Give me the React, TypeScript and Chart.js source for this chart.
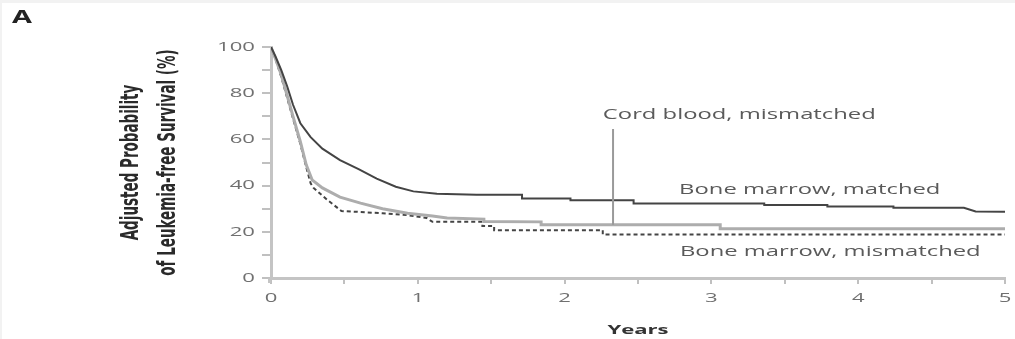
import React, { useEffect, useRef } from "react";
import { Chart, registerables } from "chart.js";

Chart.register(...registerables);

// Years and adjusted probability (%)
const bmMatchedX = [0, 0.03, 0.07, 0.11, 0.15, 0.2, 0.27, 0.35, 0.47, 0.6, 0.72, 0.85, 0.97, 1.13, 1.4, 1.71, 1.71, 2.04, 2.04, 2.47, 2.47, 3.36, 3.36, 3.79, 3.79, 4.24, 4.24, 4.72, 4.8, 5.0];
const bmMatchedY = [100, 96, 90, 83, 75, 67, 61, 56, 51, 47, 43, 39.5, 37.5, 36.5, 36, 36, 34.4, 34.4, 33.7, 33.7, 32.3, 32.3, 31.6, 31.6, 30.9, 30.9, 30.4, 30.4, 28.8, 28.7];

const cordX = [0, 0.03, 0.07, 0.11, 0.15, 0.2, 0.24, 0.28, 0.35, 0.47, 0.61, 0.76, 0.93, 1.1, 1.2, 1.45, 1.45, 1.84, 1.84, 3.06, 3.06, 5.0];
const cordY = [100, 95, 88, 79, 70, 59, 49, 42.5, 39, 35, 32.4, 30, 28, 26.8, 26, 25.5, 24.5, 24.3, 23, 23, 21.3, 21.3];

const bmMismatchedX = [0, 0.03, 0.07, 0.11, 0.15, 0.2, 0.24, 0.27, 0.29, 0.38, 0.48, 0.6, 0.76, 0.93, 1.06, 1.1, 1.44, 1.44, 1.52, 1.52, 2.26, 2.26, 5.0];
const bmMismatchedY = [100, 95, 87, 78, 69, 58, 48, 41, 39, 34, 29, 28.6, 28, 27.2, 26, 24.3, 24.3, 22.5, 22.5, 20.7, 20.7, 18.8, 18.8];

const xTickLabels = ["0", "1", "2", "3", "4", "5"];
const yTickLabels = ["0", "20", "40", "60", "80", "100"];

const seriesNames = ["Bone marrow, matched", "Cord blood, mismatched", "Bone marrow, mismatched"];
// label anchors in data coordinates [year, percent]
const labelAnchors = [[3.67, 38], [3.19, 70.5], [3.81, 11.2]];
const leaderX = 2.33;
const leaderY = [64.5, 23];

const panelLetter = "A";
const xTitle = "Years";
const yTitleLines = ["Adjusted Probability", "of Leukemia-free Survival (%)"];

const SX = 1.7;

function toPts(xs: number[], ys: number[]) {
  return xs.map((x, i) => ({ x, y: ys[i] }));
}

function drawText(ctx: CanvasRenderingContext2D, text: string, x: number, y: number, font: string, color: string, align: CanvasTextAlign) {
  ctx.save();
  ctx.translate(x, y);
  ctx.scale(SX, 1);
  ctx.font = font;
  ctx.fillStyle = color;
  ctx.textAlign = align;
  ctx.textBaseline = "middle";
  ctx.fillText(text, 0, 0);
  ctx.restore();
}

export default function App() {
  const ref = useRef<HTMLCanvasElement | null>(null);

  useEffect(() => {
    document.body.style.margin = "0";
    const canvas = ref.current!;
    const textPlugin = {
      id: "texts",
      beforeDraw(chart: any) {
        const ctx = chart.ctx as CanvasRenderingContext2D;
        ctx.save();
        ctx.fillStyle = "#ffffff";
        ctx.fillRect(0, 0, chart.width, chart.height);
        ctx.fillStyle = "#f2f2f2";
        ctx.fillRect(0, 0, chart.width, 3);
        ctx.fillRect(0, 0, 2, chart.height);
        ctx.restore();
      },
      afterDraw(chart: any) {
        const ctx = chart.ctx as CanvasRenderingContext2D;
        const xs = chart.scales.x;
        const ys = chart.scales.y;
        const ca = chart.chartArea;
        const tickFont = "13px 'Open Sans'";
        xTickLabels.forEach((t) => {
          drawText(ctx, t, xs.getPixelForValue(Number(t)), ca.bottom + 20, tickFont, "#707070", "center");
        });
        yTickLabels.forEach((t) => {
          drawText(ctx, t, ca.left - 16, ys.getPixelForValue(Number(t)), tickFont, "#707070", "right");
        });
        // y axis line slightly overshooting below the x axis
        ctx.save();
        ctx.strokeStyle = "#c4c4c4";
        ctx.lineWidth = 3;
        ctx.beginPath();
        ctx.moveTo(ca.left - 1.5, ca.bottom);
        ctx.lineTo(ca.left - 1.5, ca.bottom + 5);
        ctx.stroke();
        // leader line
        ctx.strokeStyle = "#9a9a9a";
        ctx.lineWidth = 2;
        ctx.beginPath();
        ctx.moveTo(xs.getPixelForValue(leaderX), ys.getPixelForValue(leaderY[0]));
        ctx.lineTo(xs.getPixelForValue(leaderX), ys.getPixelForValue(leaderY[1]));
        ctx.stroke();
        ctx.restore();
        const lblFont = "14px 'Open Sans'";
        seriesNames.forEach((n, i) => {
          drawText(ctx, n, xs.getPixelForValue(labelAnchors[i][0]), ys.getPixelForValue(labelAnchors[i][1]), lblFont, "#5a5a5a", "center");
        });
        drawText(ctx, xTitle, (ca.left + ca.right) / 2, 330, "bold 13px 'Open Sans'", "#333", "center");
        drawText(ctx, panelLetter, 12, 18, "bold 17px 'Open Sans'", "#222", "left");
        // rotated y title
        const cy = (ca.top + ca.bottom) / 2;
        const xsPos = [131, 168];
        yTitleLines.forEach((line, i) => {
          ctx.save();
          ctx.translate(xsPos[i], cy);
          ctx.scale(SX, 1);
          ctx.rotate(-Math.PI / 2);
          ctx.font = "bold 15px 'DejaVu Sans Condensed'";
          ctx.fillStyle = "#2a2a2a";
          ctx.textAlign = "center";
          ctx.textBaseline = "middle";
          ctx.fillText(line, 0, 0);
          ctx.restore();
        });
      },
    };

    const chart = new Chart(canvas, {
      type: "line",
      data: {
        datasets: [
          { label: seriesNames[0], data: toPts(bmMatchedX, bmMatchedY), borderColor: "#444444", borderWidth: 2, pointRadius: 0, tension: 0 },
          { label: seriesNames[1], data: toPts(cordX, cordY), borderColor: "#adadad", borderWidth: 3, pointRadius: 0, tension: 0 },
          { label: seriesNames[2], data: toPts(bmMismatchedX, bmMismatchedY), borderColor: "#444444", borderWidth: 2, borderDash: [4, 3], pointRadius: 0, tension: 0 },
        ],
      },
      plugins: [textPlugin],
      options: {
        responsive: false,
        animation: false,
        layout: { padding: { top: 47, right: 10, left: 0, bottom: 0 } },
        plugins: { legend: { display: false }, tooltip: { enabled: false } },
        scales: {
          x: {
            type: "linear",
            min: 0,
            max: 5,
            ticks: { display: false, stepSize: 0.5 },
            grid: { drawOnChartArea: false, tickLength: 6, color: "#c0c0c0", lineWidth: 2 },
            border: { display: true, color: "#c4c4c4", width: 3 },
            afterFit: (s: any) => { s.height = 61; },
          },
          y: {
            type: "linear",
            min: 0,
            max: 100,
            ticks: { display: false, stepSize: 10 },
            grid: { drawOnChartArea: false, tickLength: 9, color: "#c0c0c0", lineWidth: 2 },
            border: { display: true, color: "#c4c4c4", width: 3 },
            afterFit: (s: any) => { s.width = 271; },
          },
        },
      },
    } as any);
    return () => chart.destroy();
  }, []);

  return <canvas ref={ref} width={1015} height={339} style={{ display: "block", width: 1015, height: 339 }} />;
}
